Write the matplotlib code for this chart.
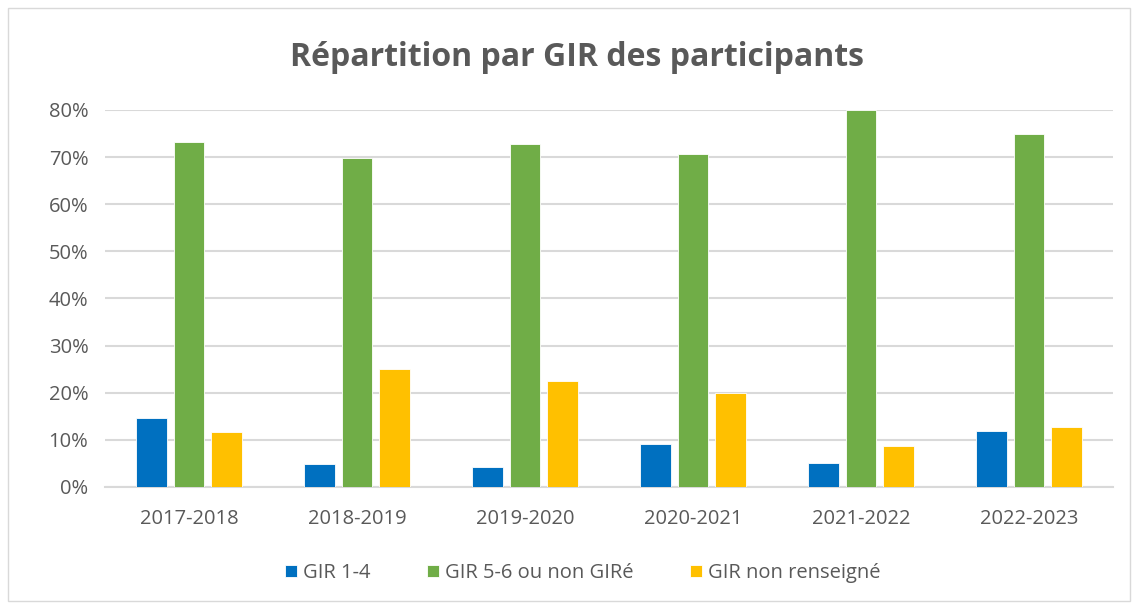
import numpy as np
import matplotlib.pyplot as plt
from matplotlib.patches import Rectangle

# Data
years = ['2017-2018', '2018-2019', '2019-2020', '2020-2021', '2021-2022', '2022-2023']
gir_1_4 = [14.6, 4.8, 4.2, 9.2, 5.1, 11.9]
gir_5_6 = [73.3, 69.8, 72.8, 70.6, 79.9, 75.0]
gir_nr = [11.7, 25.0, 22.5, 19.9, 8.6, 12.7]
series_names = ['GIR 1-4', 'GIR 5-6 ou non GIRé', 'GIR non renseigné']
colors = ['#0070C0', '#70AD47', '#FFC000']

plt.rcParams['font.family'] = ['Open Sans', 'DejaVu Sans']
text_color = '#595959'

fig = plt.figure(figsize=(11.35, 6.03), dpi=100)
ax = fig.add_axes([105 / 1135, 1 - 487 / 603, (1113 - 105) / 1135, (487 - 110) / 603])

x = np.arange(len(years))
width = 0.18
step = 0.223
for i, (vals, name, c) in enumerate(zip([gir_1_4, gir_5_6, gir_nr], series_names, colors)):
    ax.bar(x + (i - 1) * step, vals, width, color=c, label=name,
           edgecolor='white', linewidth=0.6, zorder=3)

ax.set_xlim(-0.5, len(years) - 0.5)
ax.set_ylim(0, 80)
ax.set_yticks(range(0, 81, 10))
ax.set_yticklabels([f'{v}%' for v in range(0, 81, 10)])
ax.set_xticks(x)
ax.set_xticklabels(years)
ax.yaxis.grid(True, color='#D9D9D9', linewidth=1.5, zorder=0)
ax.set_axisbelow(True)
for s in ['top', 'right', 'left']:
    ax.spines[s].set_visible(False)
ax.spines['bottom'].set_color('#D9D9D9')
ax.spines['bottom'].set_linewidth(1.5)
ax.tick_params(axis='both', length=0, colors=text_color, labelsize=14.5)
ax.tick_params(axis='x', pad=16)
ax.tick_params(axis='y', pad=12)

fig.text(577 / 1135, 1 - 57 / 603, 'Répartition par GIR des participants',
         ha='center', va='center', fontsize=23, fontweight='bold', color=text_color)

leg = fig.legend(loc='center', bbox_to_anchor=(583 / 1135, 1 - 573 / 603), ncol=3,
                 frameon=False, fontsize=14.5, handlelength=0.6, handleheight=0.6,
                 handletextpad=0.3, columnspacing=2.8)
for t in leg.get_texts():
    t.set_color(text_color)

fig.patches.append(Rectangle((8 / 1135, 2 / 603), 1122 / 1135, 593 / 603,
                             transform=fig.transFigure, fill=False,
                             edgecolor='#D9D9D9', linewidth=1))

plt.savefig('out.png', dpi=100)
